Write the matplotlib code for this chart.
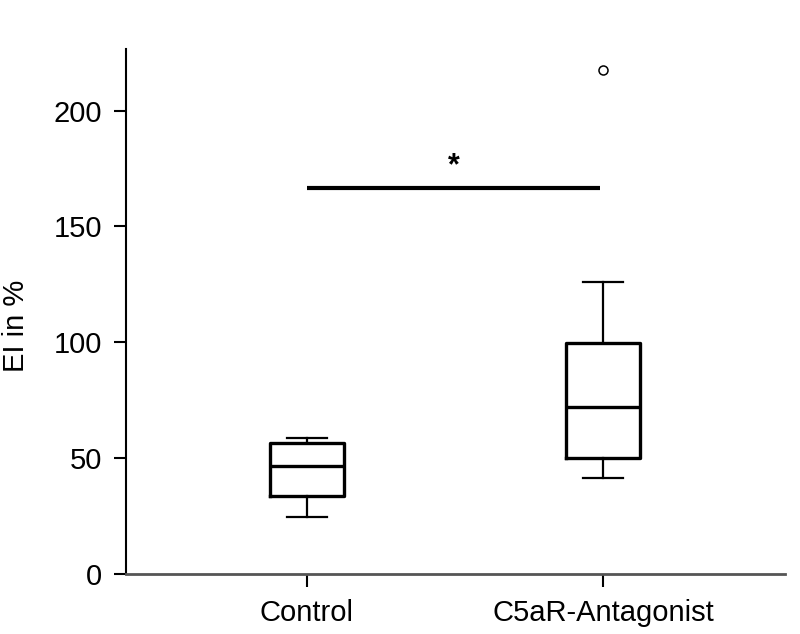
import matplotlib
matplotlib.use("Agg")
import matplotlib.pyplot as plt

categories = ["Control", "C5aR-Antagonist"]
whislo = [24.6, 41.4]
q1 = [33.6, 50.0]
med = [46.6, 72.0]
q3 = [56.5, 99.6]
whishi = [58.6, 125.9]
fliers = [[], [217.7]]
sig_y = 166.8
star_y = 176.0
yticks = [0, 50, 100, 150, 200]

plt.rcParams['font.family'] = ['Liberation Sans', 'DejaVu Sans']

fig = plt.figure(figsize=(8, 6.34), dpi=100)
ax = fig.add_axes([0.1575, 0.0946, 0.82375, 0.8281])

stats = []
for i, c in enumerate(categories):
    stats.append(dict(label=c, whislo=whislo[i], q1=q1[i], med=med[i],
                      q3=q3[i], whishi=whishi[i], fliers=fliers[i]))

positions = [1, 2]
ax.bxp(stats, positions=positions, widths=0.253, showfliers=True,
       boxprops=dict(color='black', linewidth=2.4),
       medianprops=dict(color='black', linewidth=2.4),
       whiskerprops=dict(color='black', linewidth=1.6),
       capprops=dict(color='black', linewidth=1.6),
       capwidths=0.135,
       flierprops=dict(marker='o', markersize=6.5, markerfacecolor='none',
                       markeredgecolor='black', markeredgewidth=1.1))

ax.plot([positions[0], positions[1] - 0.01], [sig_y, sig_y], color='black',
        linewidth=3, solid_capstyle='butt')
ax.text((positions[0] + positions[1]) / 2 - 0.005, star_y, '*', ha='center',
        va='center', fontsize=22, fontweight='bold')

ax.set_xlim(0.3885, 2.615)
ax.set_ylim(0, 226.6)
ax.set_yticks(yticks)
ax.set_xticks(positions)
ax.set_xticklabels(categories)
ax.set_ylabel('EI in %', fontsize=21)
ax.yaxis.set_label_coords(-0.146, 0.472)

for s in ['top', 'right']:
    ax.spines[s].set_visible(False)
ax.spines['left'].set_linewidth(1.5)
ax.spines['bottom'].set_linewidth(2)
ax.spines['bottom'].set_color('#555555')
ax.tick_params(axis='both', direction='out', length=9, width=1.5, labelsize=21)
ax.tick_params(axis='y', pad=8)
ax.tick_params(axis='x', pad=9)

fig.savefig('out.png', dpi=100)
